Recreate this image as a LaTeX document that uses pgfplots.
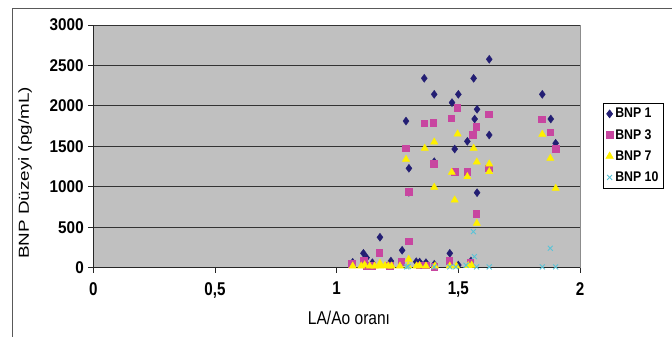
\documentclass[border=0pt]{standalone}
\usepackage{fontspec}
\setmainfont{Liberation Sans}
\usepackage{pgfplots}
\pgfplotsset{compat=1.18}
\newfontfamily\tickf{Liberation Sans}[FakeStretch=0.9]
\newfontfamily\xtickf{Liberation Sans}[FakeStretch=0.82]
\newfontfamily\xlabf{Liberation Sans}[FakeStretch=0.84]
\newfontfamily\ylabf{Liberation Sans}[FakeStretch=1.3]
\newfontfamily\legf{Liberation Sans}[FakeStretch=0.88]
\definecolor{bg}{RGB}{192,192,192}
\definecolor{navyc}{RGB}{35,30,115}
\definecolor{magc}{RGB}{200,70,160}
\definecolor{yelc}{RGB}{255,240,0}
\definecolor{cyac}{RGB}{90,195,215}
\pgfplotsset{mk/.style={only marks, legend image code/.code={\draw[mark repeat=2,mark phase=2] plot coordinates {(0cm,0cm)(0.14cm,0cm)(0.28cm,0cm)};}}}
\begin{document}
\begin{tikzpicture}
\useasboundingbox (0,0) rectangle (672pt,337pt);
\draw[black!65, line width=0.8pt] (12pt,0pt) -- (12pt,329pt) -- (672pt,329pt);
\begin{axis}[
  at={(93.3pt,69.3pt)}, anchor=south west,
  scale only axis, width=486.7pt, height=242.7pt,
  xmin=0, xmax=2, ymin=0, ymax=3000,
  axis x line*=bottom, axis y line*=left,
  axis line style={black!85, line width=0.8pt, -},
  axis background/.style={fill=bg, draw=black!45},
  xtick={0,0.5,1,1.5,2}, xticklabels={0,{0,5},1,{1,5},2},
  ytick={0,500,1000,1500,2000,2500,3000},
  ymajorgrids, grid style={black!80, line width=0.8pt},
  tick align=outside, major tick length=5pt,
  tick style={black!85, line width=0.8pt},
  /pgf/number format/1000 sep={}, /pgf/number format/assume math mode=true,
  yticklabel style={font={\tickf\bfseries\fontsize{17}{18}\selectfont}, xshift=-1pt},
  xticklabel style={font={\xtickf\bfseries\fontsize{18.5}{19}\selectfont}, yshift=-6pt},
  xlabel={LA/Ao oranı}, ylabel={BNP Düzeyi (pg/mL)},
  xlabel style={font={\xlabf\fontsize{18.5}{20}\selectfont}, at={(axis description cs:0.5254,-0.2073)}, anchor=center},
  ylabel style={font={\ylabf\fontsize{14.5}{15}\selectfont}, at={(axis description cs:-0.1403,0.390)}, anchor=center},
  legend style={at={(1.0466,0.6786)}, anchor=north west, draw=black, line width=0.6pt, fill=white,
    font={\legf\bfseries\fontsize{14}{15}\selectfont}, inner sep=3pt},
  legend cell align=left,
  legend style={/tikz/every even column/.append style={column sep=1pt}},
  legend style={row sep=6pt},
  clip=false,
]
\addplot[mk, mark=diamond*, mark size=4pt, color=navyc] coordinates {
(1.360,2341)(1.401,2143)(1.500,2143)(1.474,2040)(1.285,1813)(1.485,1467)(1.401,1310)
(1.297,1229)(1.297,932)(1.178,376)(1.110,178)(1.123,124)(1.269,215)(1.465,178)
(1.627,2576)(1.563,2341)(1.845,2143)(1.577,1958)(1.567,1838)(1.880,1838)(1.627,1640)
(1.537,1562)(1.900,1538)(1.577,927)(1.552,83)
(1.066,66)(1.147,62)(1.223,82)(1.327,74)(1.341,70)(1.367,62)(1.401,42)(1.500,33)
};
\addlegendentry{BNP 1}
\addplot[mk, mark=square*, mark size=3.3pt, color=magc] coordinates {
(1.496,1978)(1.360,1785)(1.397,1789)(1.470,1847)(1.284,1476)(1.399,1282)(1.485,1187)
(1.296,936)(1.296,326)(1.175,185)(1.266,74)(1.463,87)(1.110,87)(1.063,46)
(1.625,1896)(1.843,1834)(1.574,1743)(1.560,1645)(1.877,1677)(1.899,1471)(1.537,1187)
(1.625,1229)(1.574,664)(1.548,62)
(1.123,25)(1.145,25)(1.219,25)(1.341,30)(1.367,30)(1.401,15)
};
\addlegendentry{BNP 3}
\addplot[mk, mark=triangle*, mark size=4.2pt, color=yelc] coordinates {
(1.497,1653)(1.401,1554)(1.362,1476)(1.285,1340)(1.473,1179)(1.401,994)(1.485,837)
(1.296,104)(1.845,1649)(1.563,1476)(1.576,1307)(1.627,1282)(1.537,1125)(1.627,1187)
(1.878,1352)(1.900,981)(1.576,549)(1.178,54)
(1.066,20)(1.101,20)(1.115,35)(1.136,20)(1.156,20)(1.178,20)(1.199,25)(1.212,20)
(1.226,20)(1.260,20)(1.294,20)(1.328,20)(1.341,25)(1.367,20)(1.404,20)(1.465,20)
(1.492,20)(1.541,25)(1.555,30)
};
\addlegendentry{BNP 7}
\addplot[mk, mark=x, mark size=3.5pt, color=cyac, mark options={line width=0.9pt}] coordinates {
(1.562,445)(1.878,240)(1.566,137)(1.288,10)(1.294,15)(1.401,10)(1.465,10)(1.490,10)
(1.532,30)(1.575,10)(1.627,10)(1.845,10)(1.900,10)
};
\addlegendentry{BNP 10}
\end{axis}
\end{tikzpicture}
\end{document}
